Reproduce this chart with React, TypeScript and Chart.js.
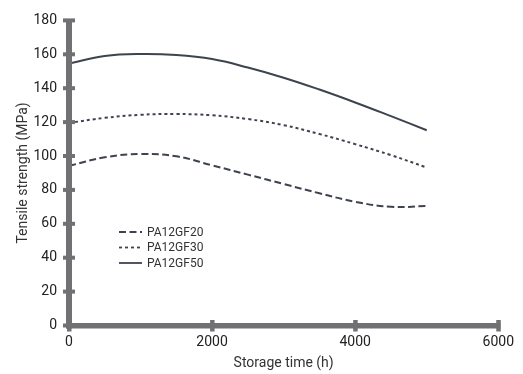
import React, { useEffect, useRef } from "react";
import { Chart, registerables } from "chart.js";

Chart.register(...registerables);

const hours = [0, 500, 1000, 1500, 2000, 2500, 3000, 3500, 4000, 4500, 5000];
const gf20 = [94.2, 99.2, 101.2, 99.8, 94.5, 89, 83.5, 78, 73, 70, 70.5];
const gf30 = [119.5, 122.5, 124.3, 124.8, 124, 121.8, 118.2, 113, 107, 100.5, 93.2];
const gf50 = [154.5, 159, 160.2, 159.6, 157.2, 152.2, 146.2, 139.2, 131.6, 123.5, 115.2];
const seriesLabels = ["PA12GF20", "PA12GF30", "PA12GF50"];
const seriesDash = [[7, 3.5], [3, 3], []];
const xTicks = [0, 2000, 4000, 6000];

const LINE = "#3e4350";
const AXIS = "#717174";
const FONT = "Roboto";

const axesPlugin = {
  id: "axesPlugin",
  afterDatasetsDraw(chart: any) {
    const { ctx, chartArea } = chart;
    const xs = chart.scales.x;
    const ys = chart.scales.y;
    const left = chartArea.left;
    const bottom = chartArea.bottom;
    ctx.save();
    ctx.fillStyle = AXIS;
    ctx.fillRect(left - 3, chartArea.top - 1, 6, bottom - chartArea.top + 4);
    ctx.fillRect(left - 3, bottom - 2.5, chartArea.right - left + 5, 5.5);
    ys.ticks.forEach((t: any) => {
      const py = ys.getPixelForValue(t.value);
      ctx.fillRect(left - 6, py - 2, 12, 4);
    });
    xs.ticks.forEach((t: any) => {
      const px = xs.getPixelForValue(t.value);
      ctx.fillRect(px - 2, bottom - 5.5, 4.5, 11.5);
    });
    ctx.restore();
  },
  afterDraw(chart: any) {
    const { ctx } = chart;
    ctx.save();
    const x0 = 119;
    const y0 = 232;
    const gap = 15.5;
    chart.data.datasets.forEach((ds: any, i: number) => {
      const y = y0 + i * gap;
      ctx.strokeStyle = LINE;
      ctx.lineWidth = 1.8;
      ctx.setLineDash(ds.borderDash || []);
      ctx.beginPath();
      ctx.moveTo(x0, y);
      ctx.lineTo(x0 + 23, y);
      ctx.stroke();
      ctx.setLineDash([]);
      ctx.fillStyle = "#333";
      ctx.font = `12px ${FONT}`;
      ctx.textBaseline = "middle";
      ctx.textAlign = "left";
      ctx.fillText(ds.label, x0 + 28, y + 0.5);
    });
    ctx.restore();
  },
};

export default function App() {
  const ref = useRef<HTMLCanvasElement | null>(null);
  useEffect(() => {
    if (!ref.current) return;
    const seriesValues = [gf20, gf30, gf50];
    const chart = new Chart(ref.current, {
      type: "line",
      data: {
        datasets: seriesValues.map((vals, i) => ({
          label: seriesLabels[i],
          data: hours.map((h, j) => ({ x: h, y: vals[j] })),
          borderColor: LINE,
          borderWidth: 2,
          borderDash: seriesDash[i],
          pointRadius: 0,
          fill: false,
          tension: 0.4,
        })),
      },
      options: {
        animation: false,
        responsive: false,
        maintainAspectRatio: false,
        layout: { padding: { top: 17, right: 23, left: 0, bottom: 0 } },
        plugins: { legend: { display: false }, tooltip: { enabled: false } },
        scales: {
          x: {
            type: "linear",
            min: 0,
            max: 6000,
            afterBuildTicks: (s: any) => {
              s.ticks = xTicks.map((v) => ({ value: v }));
            },
            afterFit: (s: any) => {
              s.height = 48.5;
            },
            grid: { display: false, drawTicks: false },
            border: { display: false },
            ticks: {
              padding: 9,
              color: "#222",
              font: { family: FONT, size: 14 },
              maxRotation: 0,
              autoSkip: false,
              callback: (v: any) => String(v),
            },
            title: {
              display: true,
              text: "Storage time (h)",
              color: "#333",
              font: { family: FONT, size: 14 },
              padding: { top: 0, bottom: 2 },
            },
          },
          y: {
            type: "linear",
            min: 0,
            max: 180,
            afterFit: (s: any) => {
              s.width = 69;
            },
            grid: { display: false, drawTicks: false },
            border: { display: false },
            ticks: {
              stepSize: 20,
              padding: 12,
              color: "#222",
              font: { family: FONT, size: 14 },
            },
            title: {
              display: true,
              text: "Tensile strength (MPa)",
              color: "#333",
              font: { family: FONT, size: 14 },
              padding: { top: 15, bottom: 0 },
            },
          },
        },
      },
      plugins: [axesPlugin],
    });
    return () => chart.destroy();
  }, []);
  return (
    <div style={{ position: "fixed", left: 0, top: 0, width: 523, height: 374, background: "#fff" }}>
      <canvas ref={ref} width={523} height={374} style={{ width: 523, height: 374 }} />
    </div>
  );
}
